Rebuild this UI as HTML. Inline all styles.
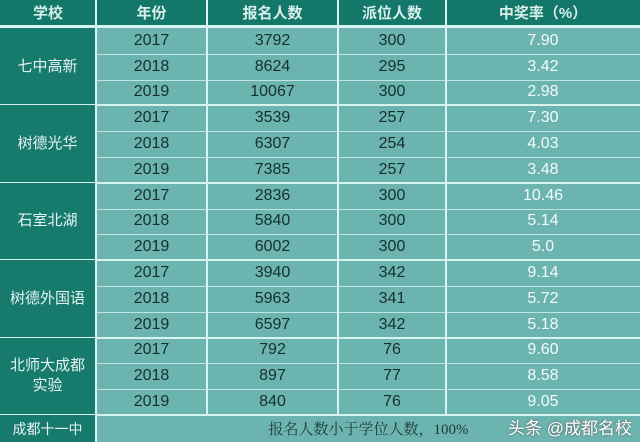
<!DOCTYPE html>
<html><head><meta charset="utf-8"><style>
body{margin:0;width:640px;height:442px;overflow:hidden;background:#6cb4af;font-family:"Liberation Sans","Noto Sans CJK SC",sans-serif;}
.c{position:absolute;display:flex;align-items:center;justify-content:center;box-sizing:border-box;}
.h{background:#137769;color:#d9efec;font-size:15px;font-weight:bold;}
.s{background:#167a6d;color:#e6f4f2;font-size:15px;text-align:center;line-height:20px;}
.d{color:#15302d;font-size:16px;}
.w{color:#f2fbfa;font-size:16px;}
.hl{position:absolute;left:95px;width:545px;height:1px;background:#bfe6e2;}
.vl{position:absolute;width:2px;background:#d8f2ef;}
</style></head><body>
<div class="c h" style="left:0;top:0;width:640px;height:25px;"></div>
<div class="c h" style="left:0;top:0;width:96px;height:25px;">学校</div>
<div class="c h" style="left:96px;top:0;width:111px;height:25px;">年份</div>
<div class="c h" style="left:207px;top:0;width:131px;height:25px;">报名人数</div>
<div class="c h" style="left:338px;top:0;width:108px;height:25px;">派位人数</div>
<div class="c h" style="left:446px;top:0;width:194px;height:25px;">中奖率（%）</div>
<div style="position:absolute;left:0;top:25px;width:640px;height:3px;background:#d8f2ef;"></div>
<div id="g"></div>
<script>
var data=[["七中高新",[["2017","3792","300","7.90"],["2018","8624","295","3.42"],["2019","10067","300","2.98"]]],
["树德光华",[["2017","3539","257","7.30"],["2018","6307","254","4.03"],["2019","7385","257","3.48"]]],
["石室北湖",[["2017","2836","300","10.46"],["2018","5840","300","5.14"],["2019","6002","300","5.0"]]],
["树德外国语",[["2017","3940","342","9.14"],["2018","5963","341","5.72"],["2019","6597","342","5.18"]]],
["北师大成都<br>实验",[["2017","792","76","9.60"],["2018","897","77","8.58"],["2019","840","76","9.05"]]]];
var h="",y=28,rh=25.8;
var X=[96,207,338,446,640];
data.forEach(function(g,gi){
 h+='<div class="c s" style="left:0;top:'+y+'px;width:95px;height:'+(rh*3)+'px;">'+g[0]+'</div>';
 g[1].forEach(function(r,ri){
  for(var i=0;i<4;i++){h+='<div class="c '+(i==3?'w':'d')+'" style="left:'+X[i]+'px;top:'+(y+ri*rh)+'px;width:'+(X[i+1]-X[i])+'px;height:'+rh+'px;">'+r[i]+'</div>';}
  if(ri<2)h+='<div class="hl" style="top:'+Math.round(y+(ri+1)*rh)+'px"></div>';
 });
 y+=rh*3;
 h+='<div style="position:absolute;left:0;width:640px;height:2px;background:#d8f2ef;top:'+Math.round(y-1)+'px"></div>';
});
[95,206,337,445].forEach(function(x){h+='<div class="vl" style="left:'+x+'px;top:0;height:'+(x==95?442:415)+'px"></div>';});
h+='<div class="c s" style="left:0;top:415px;width:95px;height:27px;font-size:14px;">成都十一中</div>';
h+='<div class="c" style="left:97px;top:415px;width:543px;height:27px;font-family:\'Liberation Serif\',\'Noto Serif CJK SC\',serif;font-size:15px;color:#1d3a37;">报名人数小于学位人数，100%</div>';
h+='<div style="position:absolute;left:508px;top:414px;font-size:17px;color:#fff;text-shadow:0 0 2px #555;">头条 @成都名校</div>';
document.getElementById("g").innerHTML=h;
</script>
</body></html>
